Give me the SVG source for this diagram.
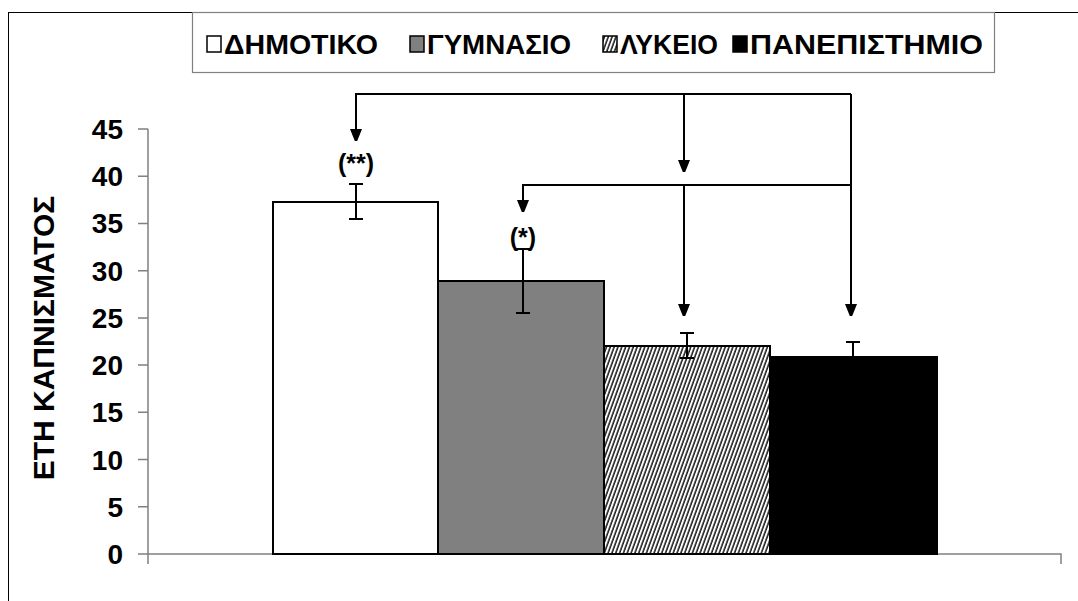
<svg xmlns="http://www.w3.org/2000/svg" width="1078" height="601" viewBox="0 0 1078 601">
<defs>
<style>
text{font-family:"Liberation Sans",Arial,sans-serif;font-weight:bold;fill:#000}
.tick{font-size:28px;text-anchor:end}
.leg{font-size:27px}
.ax{stroke:#808080;stroke-width:1.5;fill:none}
.bar{stroke:#000;stroke-width:2}
.err{stroke:#000;stroke-width:2;fill:none}
.con{stroke:#000;stroke-width:2;fill:none}
</style>
<pattern id="hatch" width="3.6" height="4" patternUnits="userSpaceOnUse" patternTransform="rotate(20)">
<rect width="3.6" height="4" fill="#fff"/>
<line x1="1" y1="0" x2="1" y2="4" stroke="#000" stroke-width="1.4"/>
</pattern>
<marker id="ah" markerWidth="12" markerHeight="16" refX="11" refY="6" orient="auto" markerUnits="userSpaceOnUse">
<path d="M0,0 L15,6 L0,12 Z" fill="#000"/>
</marker>
</defs>
<rect width="1078" height="601" fill="#fff"/>
<rect x="8.5" y="12.5" width="1100" height="700" fill="none" stroke="#000" stroke-width="1"/>
<g id="legend">
<rect x="192.5" y="12.5" width="802" height="60" fill="#fff" stroke="#808080" stroke-width="1.2"/>
<rect x="207" y="36" width="14" height="16" fill="#fff" stroke="#000" stroke-width="1.5"/>
<text class="leg" x="224" y="53.5" textLength="154" lengthAdjust="spacingAndGlyphs">ΔΗΜΟΤΙΚΟ</text>
<rect x="410" y="36" width="14" height="16" fill="#808080" stroke="#000" stroke-width="1.5"/>
<text class="leg" x="427" y="53.5" textLength="144" lengthAdjust="spacingAndGlyphs">ΓΥΜΝΑΣΙΟ</text>
<rect x="603" y="36" width="14" height="16" fill="url(#hatch)" stroke="#000" stroke-width="1.5"/>
<text class="leg" x="620" y="53.5" textLength="98" lengthAdjust="spacingAndGlyphs">ΛΥΚΕΙΟ</text>
<rect x="733" y="36" width="14" height="16" fill="#000" stroke="#000" stroke-width="1.5"/>
<text class="leg" x="750" y="53.5" textLength="233" lengthAdjust="spacingAndGlyphs">ΠΑΝΕΠΙΣΤΗΜΙΟ</text>
</g>
<g id="axes">
<path class="ax" d="M148,129 V564 M148,554 H1061 V564"/>
<path class="ax" d="M138,129 H148 M138,176.2 H148 M138,223.4 H148 M138,270.7 H148 M138,317.9 H148 M138,365.1 H148 M138,412.3 H148 M138,459.6 H148 M138,506.8 H148 M138,554 H148"/>
<text class="tick" x="123" y="139">45</text>
<text class="tick" x="123" y="186.2">40</text>
<text class="tick" x="123" y="233.4">35</text>
<text class="tick" x="123" y="280.7">30</text>
<text class="tick" x="123" y="327.9">25</text>
<text class="tick" x="123" y="375.1">20</text>
<text class="tick" x="123" y="422.3">15</text>
<text class="tick" x="123" y="469.6">10</text>
<text class="tick" x="123" y="516.8">5</text>
<text class="tick" x="123" y="564">0</text>
<text x="54" y="338" font-size="30" text-anchor="middle" transform="rotate(-90 54 338)">ΕΤΗ ΚΑΠΝΙΣΜΑΤΟΣ</text>
</g>
<g id="bar-dimotiko">
<rect class="bar" x="273" y="202" width="165" height="352" fill="#fff"/>
<path class="err" d="M356,184 V219 M349,184 H363 M349,219 H363"/>
<text x="356" y="172" font-size="25" text-anchor="middle">(**)</text>
</g>
<g id="bar-gymnasio">
<rect class="bar" x="438" y="281" width="166" height="273" fill="#808080"/>
<path class="err" d="M523,249 V313 M516,249 H530 M516,313 H530"/>
<text x="523" y="246" font-size="25" text-anchor="middle">(*)</text>
</g>
<g id="bar-lykeio">
<rect class="bar" x="604" y="346" width="166" height="208" fill="url(#hatch)"/>
<path class="err" d="M687,333 V358 M680,333 H694 M680,358 H694"/>
</g>
<g id="bar-panepistimio">
<rect class="bar" x="770" y="357" width="167" height="197" fill="#000"/>
<path class="err" d="M853,342 V357 M846,342 H860"/>
</g>
<g id="connectors">
<path class="con" d="M851,94 H356 V140" marker-end="url(#ah)"/>
<path class="con" d="M684,94 V171" marker-end="url(#ah)"/>
<path class="con" d="M851,94 V315" marker-end="url(#ah)"/>
<path class="con" d="M851,185 H523 V211" marker-end="url(#ah)"/>
<path class="con" d="M684,185 V315" marker-end="url(#ah)"/>
</g>
</svg>
